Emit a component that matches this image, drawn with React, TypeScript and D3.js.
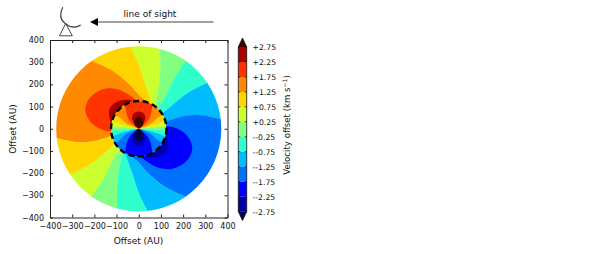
import React, { useEffect, useRef } from 'react';
import * as d3 from 'd3';

type Pt = [number, number];

// colour bands
const levels = [-2.75, -2.25, -1.75, -1.25, -0.75, -0.25, 0.25, 0.75, 1.25, 1.75, 2.25, 2.75];
const bandColors = [
  '#000044', '#0000a8', '#0000ff', '#0070ff', '#00bcff', '#2effcc',
  '#80ff80', '#ccff2e', '#ffd500', '#ff8900', '#ff3300', '#a80000', '#440000',
];
const axisTicks = [-400, -300, -200, -100, 0, 100, 200, 300, 400];

const diskRadius = 372;
const innerRadius = 125;

// contour edges of the outer disk in AU, rim to centre
const edgeA: Pt[] = [[-211, 306], [-115, 260], [-38, 196], [7, 147], [61, 106]];
const edgeB: Pt[] = [[-38, 369], [-1, 294], [29, 204], [64, 106]];
const edgeC: Pt[] = [[97, 358], [97, 249], [82, 144], [70, 101]];
const edgeD: Pt[] = [[211, 303], [157, 219], [112, 129], [82, 91]];
const edgeE: Pt[] = [[311, 207], [218, 159], [142, 98], [97, 61]];
const edgeF: Pt[] = [[368, 43], [278, 61], [202, 56], [120, 31]];
const sectorValues = [1.5, 1, 0.5, 0, -0.5, -1, -1.5, -1, -0.5, 0, 0.5, 1];

// big lobes outside the dashed circle
const outerLobe: Pt[] = [
  [-120, -11], [-170, -2], [-215, 28], [-241, 80], [-228, 130], [-190, 165],
  [-142, 182], [-90, 176], [-40, 150], [0, 118], [43, 84], [-40, 20],
];
const outerCrescent: Pt[] = [[-31, 124], [-93, 124], [-130, 93], [-133, 56], [-115, 16], [-40, 40]];

// inner dipole, right half of each lobe, mirrored when drawn
const innerValues = [0.5, 1, 1.5, 2, 2.5, 3];
const innerLobes: Pt[][] = [
  [[0, 0], [70, 7], [140, 16], [160, 200], [0, 220]],
  [[0, 0], [60, 14], [115, 32], [170, 50], [170, 200], [0, 220]],
  [[0, 0], [50, 20], [88, 52], [125, 85], [110, 200], [0, 220]],
  [[0, 0], [30, 22], [48, 47], [58, 85], [60, 113], [40, 160], [0, 190]],
  [[0, 0], [14, 15], [26, 35], [30, 50], [24, 68], [0, 78]],
  [[0, 2], [14, 10], [21, 25], [18, 42], [0, 54]],
];

const flip = (pts: Pt[]): Pt[] => pts.map(([a, b]) => [-a, -b] as Pt);

const App = () => {
  const ref = useRef<SVGSVGElement>(null);

  useEffect(() => {
    const svg = d3.select(ref.current);
    svg.selectAll('*').remove();
    const font = 'DejaVu Sans';

    const x = d3.scaleLinear().domain([-400, 400]).range([50, 227.5]);
    const y = d3.scaleLinear().domain([-400, 400]).range([217.5, 40]);
    const r = (v: number) => x(v) - x(0);
    const color = d3.scaleThreshold<number, string>().domain(levels).range(bandColors);

    const smooth = d3.line<Pt>().x((d) => x(d[0])).y((d) => y(d[1])).curve(d3.curveCatmullRom);
    const closed = d3.line<Pt>().x((d) => x(d[0])).y((d) => y(d[1])).curve(d3.curveCatmullRomClosed);

    const defs = svg.append('defs');
    const addClip = (id: string, rad: number) =>
      defs.append('clipPath').attr('id', id).append('circle')
        .attr('cx', x(0)).attr('cy', y(0)).attr('r', r(rad));
    addClip('disk', diskRadius);
    addClip('inner', innerRadius);

    // outer disk
    const disk = svg.append('g').attr('clip-path', 'url(#disk)');
    const edges = [flip(edgeF), edgeA, edgeB, edgeC, edgeD, edgeE, edgeF,
      flip(edgeA), flip(edgeB), flip(edgeC), flip(edgeD), flip(edgeE)];
    const beyond = (e: Pt[]) => `${x(e[0][0] * 1.3)},${y(e[0][1] * 1.3)}`;
    sectorValues.forEach((v, i) => {
      const a = edges[i];
      const b = edges[(i + 1) % edges.length];
      const back = [...b].reverse();
      const d = `M${beyond(a)}L${(smooth(a) as string).slice(1)}L${x(0)},${y(0)}`
        + `L${(smooth(back) as string).slice(1)}L${beyond(b)}Z`;
      disk.append('path').attr('d', d)
        .attr('fill', color(v)).attr('stroke', color(v)).attr('stroke-width', 0.3);
    });
    [[outerLobe, 2], [outerCrescent, 2.5]].forEach(([pts, v]) => {
      const p = pts as Pt[];
      const val = v as number;
      disk.append('path').attr('d', closed(p)).attr('fill', color(val));
      disk.append('path').attr('d', closed(flip(p))).attr('fill', color(-val));
    });

    // inner dipole
    const inner = svg.append('g').attr('clip-path', 'url(#inner)');
    inner.append('circle').attr('cx', x(0)).attr('cy', y(0)).attr('r', r(innerRadius)).attr('fill', color(0));
    innerLobes.forEach((half, i) => {
      const full: Pt[] = [...half, ...half.slice(1, -1).reverse().map(([a, b]) => [-a, b] as Pt)];
      inner.append('path').attr('d', `${smooth(full)}Z`).attr('fill', color(innerValues[i]));
      inner.append('path').attr('d', `${smooth(flip(full))}Z`).attr('fill', color(-innerValues[i]));
    });
    svg.append('circle')
      .attr('cx', x(0)).attr('cy', y(0)).attr('r', r(innerRadius))
      .attr('fill', 'none').attr('stroke', '#000').attr('stroke-width', 2.4)
      .attr('stroke-dasharray', '6 3.6');

    // frame and ticks
    const axes: [d3.Axis<number>, number, number, boolean][] = [
      [d3.axisBottom<number>(x), 0, 217.5, true],
      [d3.axisTop<number>(x), 0, 40, false],
      [d3.axisLeft<number>(y), 50, 0, true],
      [d3.axisRight<number>(y), 227.5, 0, false],
    ];
    axes.forEach(([axis, tx, ty, labelled]) => {
      const g = svg.append('g').attr('transform', `translate(${tx},${ty})`)
        .call(axis.tickValues(axisTicks).tickSizeInner(-3).tickSizeOuter(0).tickPadding(6) as any);
      g.selectAll('.domain').attr('stroke', '#222');
      g.selectAll('.tick line').attr('stroke', '#222');
      if (!labelled) g.selectAll('text').remove();
      g.selectAll('text').attr('font-family', font).attr('font-size', 8).attr('fill', '#111');
    });
    svg.append('text').attr('x', 138.5).attr('y', 244).attr('text-anchor', 'middle')
      .attr('font-family', font).attr('font-size', 9).attr('fill', '#111').text('Offset (AU)');
    svg.append('text').attr('transform', 'translate(15.5,129) rotate(-90)').attr('text-anchor', 'middle')
      .attr('font-family', font).attr('font-size', 9).attr('fill', '#111').text('Offset (AU)');

    // colorbar
    const cx0 = 238.3;
    const cx1 = 246.7;
    const cmid = (cx0 + cx1) / 2;
    const v = d3.scaleLinear().domain([-2.75, 2.75]).range([211.6, 47]);
    d3.pairs(levels).forEach(([lo, hi]) => {
      svg.append('rect').attr('x', cx0).attr('width', cx1 - cx0)
        .attr('y', v(hi)).attr('height', v(lo) - v(hi)).attr('fill', color((lo + hi) / 2));
    });
    svg.append('path').attr('d', `M${cx0},${v(2.75)}L${cmid},38L${cx1},${v(2.75)}Z`).attr('fill', color(3));
    svg.append('path').attr('d', `M${cx0},${v(-2.75)}L${cmid},220.5L${cx1},${v(-2.75)}Z`).attr('fill', color(-3));
    svg.append('path')
      .attr('d', `M${cx0},${v(2.75)}L${cmid},38L${cx1},${v(2.75)}L${cx1},${v(-2.75)}L${cmid},220.5L${cx0},${v(-2.75)}Z`)
      .attr('fill', 'none').attr('stroke', '#111').attr('stroke-width', 0.8);
    levels.forEach((lv) => {
      svg.append('path').attr('d', `M${cx0},${v(lv)}h2M${cx1},${v(lv)}h-2`).attr('stroke', '#111').attr('stroke-width', 0.8);
      svg.append('text').attr('x', 252.5).attr('y', v(lv) + 3)
        .attr('font-family', font).attr('font-size', 7.7).attr('fill', '#111')
        .text(lv > 0 ? `+${lv.toFixed(2)}` : `--${Math.abs(lv).toFixed(2)}`);
    });
    const label = svg.append('text').attr('transform', 'translate(290,125) rotate(-90)')
      .attr('text-anchor', 'middle').attr('font-family', font).attr('font-size', 8.6).attr('fill', '#111');
    label.append('tspan').text('Velocity offset (km s');
    label.append('tspan').attr('dy', -3).attr('font-size', 6).text('\u22121');
    label.append('tspan').attr('dy', 3).text(')');

    // line of sight
    svg.append('text').attr('x', 150).attr('y', 16.5).attr('text-anchor', 'middle')
      .attr('font-family', font).attr('font-size', 9).attr('fill', '#111').text('line of sight');
    svg.append('path').attr('d', 'M213.5,22H97').attr('stroke', '#444').attr('stroke-width', 1.1);
    svg.append('path').attr('d', 'M90,22L98,18V26Z').attr('fill', '#000');
    svg.append('path').attr('d', 'M62.7,7.3C59.5,14 60.5,20 65,23.3C70,27.5 76,28 80.7,25')
      .attr('fill', 'none').attr('stroke', '#333').attr('stroke-width', 1.1);
    svg.append('path').attr('d', 'M65.7,23.5L59.5,35.8H72.3Z')
      .attr('fill', 'none').attr('stroke', '#333').attr('stroke-width', 0.9);
  }, []);

  return <svg ref={ref} width={598} height={254} style={{ position: 'absolute', left: 0, top: 0, background: '#fff' }} />;
};

export default App;
